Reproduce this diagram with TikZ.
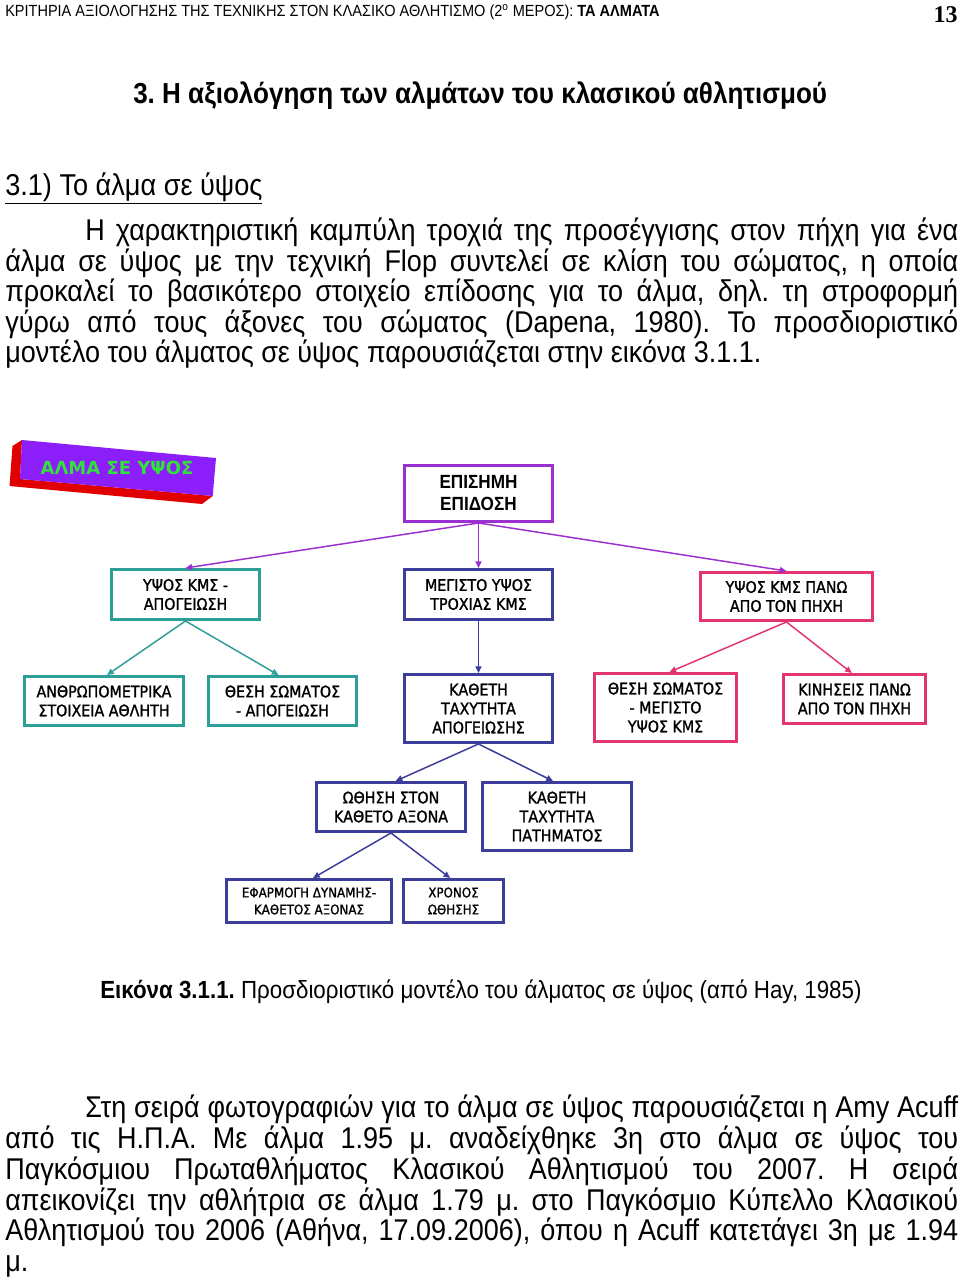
\documentclass[tikz,border=0pt]{standalone}
\usepackage{fontspec}
\setmainfont{Liberation Sans}[FakeStretch=0.9]
\newfontfamily\boxfont{DejaVu Sans}[FakeStretch=0.89,FakeBold=1.3]
\newfontfamily\barfont{DejaVu Sans}
\newfontfamily\pgnum{Liberation Serif}
\usetikzlibrary{arrows.meta,calc}
\definecolor{cPur}{RGB}{155,48,208}
\definecolor{cTeal}{RGB}{46,158,152}
\definecolor{cBlue}{RGB}{60,60,155}
\definecolor{cPink}{RGB}{226,51,114}
\definecolor{cBar}{RGB}{140,30,250}
\definecolor{cRed}{RGB}{225,0,0}
\definecolor{cGreen}{RGB}{50,225,60}
\newcommand\bodyfont{\fontsize{22.5}{26}\selectfont}
\frenchspacing
\begin{document}
\begin{tikzpicture}[x=0.75pt,y=-0.75pt,
  bx/.style={draw,line width=2.2pt,fill=white,align=center,inner sep=0pt,
    font=\boxfont\fontsize{12}{14.2}\selectfont},
  wh/.style 2 args={minimum width={(#1-3)*0.75pt},minimum height={(#2-3)*0.75pt}},
  con/.style={line width=1.1pt,-{Triangle[length=5pt,width=4.5pt]}},
  txt/.style={anchor=base west,inner sep=0pt}]
\useasboundingbox (0,0) rectangle (960,1278);
\fill[white] (0,0) rectangle (960,1278);

% header
\node[txt] (hdr) at (5,16) {\fontsize{12.1}{14}\selectfont ΚΡΙΤΗΡΙΑ ΑΞΙΟΛΟΓΗΣΗΣ ΤΗΣ ΤΕΧΝΙΚΗΣ ΣΤΟΝ ΚΛΑΣΙΚΟ ΑΘΛΗΤΙΣΜΟ (2\textsuperscript{ο} ΜΕΡΟΣ): \textbf{ΤΑ ΑΛΜΑΤΑ}};
\node[anchor=base east,inner sep=0pt] (pg) at (958,22) {\pgnum\bfseries\fontsize{18}{20}\selectfont 13};

% title
\node[txt] (title) at (133,103) {\bfseries\fontsize{21.7}{26}\selectfont 3. Η αξιολόγηση των αλμάτων του κλασικού αθλητισμού};
\node[txt] (sub) at (5,195) {\fontsize{22.6}{26}\selectfont\underline{3.1) Το άλμα σε ύψος}};

% paragraph 1
\node[txt] (p1) at (85,240) {\bodyfont\makebox[654.75pt][s]{Η χαρακτηριστική καμπύλη τροχιά της προσέγγισης στον πήχη για ένα}};
\node[txt] (p2) at (5,271) {\bodyfont\makebox[714.75pt][s]{άλμα σε ύψος με την τεχνική Flop συντελεί σε κλίση του σώματος, η οποία}};
\node[txt] (p3) at (5,301) {\bodyfont\makebox[714.75pt][s]{προκαλεί το βασικότερο στοιχείο επίδοσης για το άλμα, δηλ. τη στροφορμή}};
\node[txt] (p4) at (5,332) {\bodyfont\makebox[714.75pt][s]{γύρω από τους άξονες του σώματος (Dapena, 1980). Το προσδιοριστικό}};
\node[txt] (p5) at (5,362) {\bodyfont μοντέλο του άλματος σε ύψος παρουσιάζεται στην εικόνα 3.1.1.};

% 3D title bar
\fill[cRed] (22,440) -- (12.5,446) -- (9.5,486) -- (202,504) -- (212.7,496) -- (20,479) -- cycle;
\fill[cBar] (22,440) -- (216,458) -- (212.7,496) -- (20,479) -- cycle;
\node[text=cGreen,inner sep=0pt] (bar) at (117,468) {\barfont\bfseries\fontsize{13.5}{16}\selectfont ΑΛΜΑ ΣΕ ΥΨΟΣ};

% boxes
\node[bx,wh={151}{59},draw=cPur,font=\bfseries\fontsize{14.3}{16.5}\selectfont] (top) at (478.5,493.5) {ΕΠΙΣΗΜΗ\\ΕΠΙΔΟΣΗ};
\node[bx,wh={151}{53},draw=cTeal] (h1) at (185.5,594.5) {ΥΨΟΣ ΚΜΣ -\\ΑΠΟΓΕΙΩΣΗ};
\node[bx,wh={151}{53},draw=cBlue] (h2) at (478.5,594.5) {ΜΕΓΙΣΤΟ ΥΨΟΣ\\ΤΡΟΧΙΑΣ ΚΜΣ};
\node[bx,wh={175}{51},draw=cPink] (h3) at (786.5,596.5) {ΥΨΟΣ ΚΜΣ ΠΑΝΩ\\ΑΠΟ ΤΟΝ ΠΗΧΗ};
\node[bx,wh={162}{52},draw=cTeal] (a1) at (104,701) {ΑΝΘΡΩΠΟΜΕΤΡΙΚΑ\\ΣΤΟΙΧΕΙΑ ΑΘΛΗΤΗ};
\node[bx,wh={151}{52},draw=cTeal] (a2) at (282.5,701) {ΘΕΣΗ ΣΩΜΑΤΟΣ\\- ΑΠΟΓΕΙΩΣΗ};
\node[bx,wh={151}{71},draw=cBlue] (b1) at (478.5,708.5) {ΚΑΘΕΤΗ\\ΤΑΧΥΤΗΤΑ\\ΑΠΟΓΕΙΩΣΗΣ};
\node[bx,wh={145}{71},draw=cPink] (c1) at (665.5,707.5) {ΘΕΣΗ ΣΩΜΑΤΟΣ\\- ΜΕΓΙΣΤΟ\\ΥΨΟΣ ΚΜΣ};
\node[bx,wh={145}{52},draw=cPink] (c2) at (854.5,699) {ΚΙΝΗΣΕΙΣ ΠΑΝΩ\\ΑΠΟ ΤΟΝ ΠΗΧΗ};
\node[bx,wh={152}{52},draw=cBlue] (d1) at (391,807) {ΩΘΗΣΗ ΣΤΟΝ\\ΚΑΘΕΤΟ ΑΞΟΝΑ};
\node[bx,wh={152}{71},draw=cBlue] (d2) at (557,816.5) {ΚΑΘΕΤΗ\\ΤΑΧΥΤΗΤΑ\\ΠΑΤΗΜΑΤΟΣ};
\node[bx,wh={168}{46},draw=cBlue,font=\boxfont\fontsize{10}{12.75}\selectfont] (e1) at (309,901) {ΕΦΑΡΜΟΓΗ ΔΥΝΑΜΗΣ-\\ΚΑΘΕΤΟΣ ΑΞΟΝΑΣ};
\node[bx,wh={103}{46},draw=cBlue,font=\boxfont\fontsize{10}{12.75}\selectfont] (e2) at (453.5,901) {ΧΡΟΝΟΣ\\ΩΘΗΣΗΣ};

% connectors
\draw[con,cPur] (top.south) -- (h1.north);
\draw[con,cPur] (top.south) -- (h2.north);
\draw[con,cPur] (top.south) -- (h3.north);
\draw[con,cTeal] (h1.south) -- ([xshift=2.25pt]a1.north);
\draw[con,cTeal] (h1.south) -- ([xshift=-3pt]a2.north);
\draw[con,cBlue] (h2.south) -- (b1.north);
\draw[con,cPink] (h3.south) -- ([xshift=3pt]c1.north);
\draw[con,cPink] (h3.south) -- ([xshift=-2pt]c2.north);
\draw[con,cBlue] (b1.south) -- ([xshift=3.5pt]d1.north);
\draw[con,cBlue] (b1.south) -- ([xshift=-3pt]d2.north);
\draw[con,cBlue] (d1.south) -- ([xshift=3pt]e1.north);
\draw[con,cBlue] (d1.south) -- ([xshift=-2.5pt]e2.north);

% caption
\node[txt] (cap) at (100,998) {\fontsize{18.6}{22}\selectfont\textbf{Εικόνα 3.1.1.} Προσδιοριστικό μοντέλο του άλματος σε ύψος (από Hay, 1985)};

% paragraph 2
\node[txt] (q1) at (85,1117) {\bodyfont\makebox[654.75pt][s]{Στη σειρά φωτογραφιών για το άλμα σε ύψος παρουσιάζεται η Amy Acuff}};
\node[txt] (q2) at (5,1148) {\bodyfont\makebox[714.75pt][s]{από τις Η.Π.Α. Με άλμα 1.95 μ. αναδείχθηκε 3η στο άλμα σε ύψος του}};
\node[txt] (q3) at (5,1179) {\bodyfont\makebox[714.75pt][s]{Παγκόσμιου Πρωταθλήματος Κλασικού Αθλητισμού του 2007. Η σειρά}};
\node[txt] (q4) at (5,1210) {\bodyfont\makebox[714.75pt][s]{απεικονίζει την αθλήτρια σε άλμα 1.79 μ. στο Παγκόσμιο Κύπελλο Κλασικού}};
\node[txt] (q5) at (5,1240) {\bodyfont\makebox[714.75pt][s]{Αθλητισμού του 2006 (Αθήνα, 17.09.2006), όπου η Acuff κατετάγει 3η με 1.94}};
\node[txt] (q6) at (5,1271) {\bodyfont μ.};
\end{tikzpicture}
\end{document}
